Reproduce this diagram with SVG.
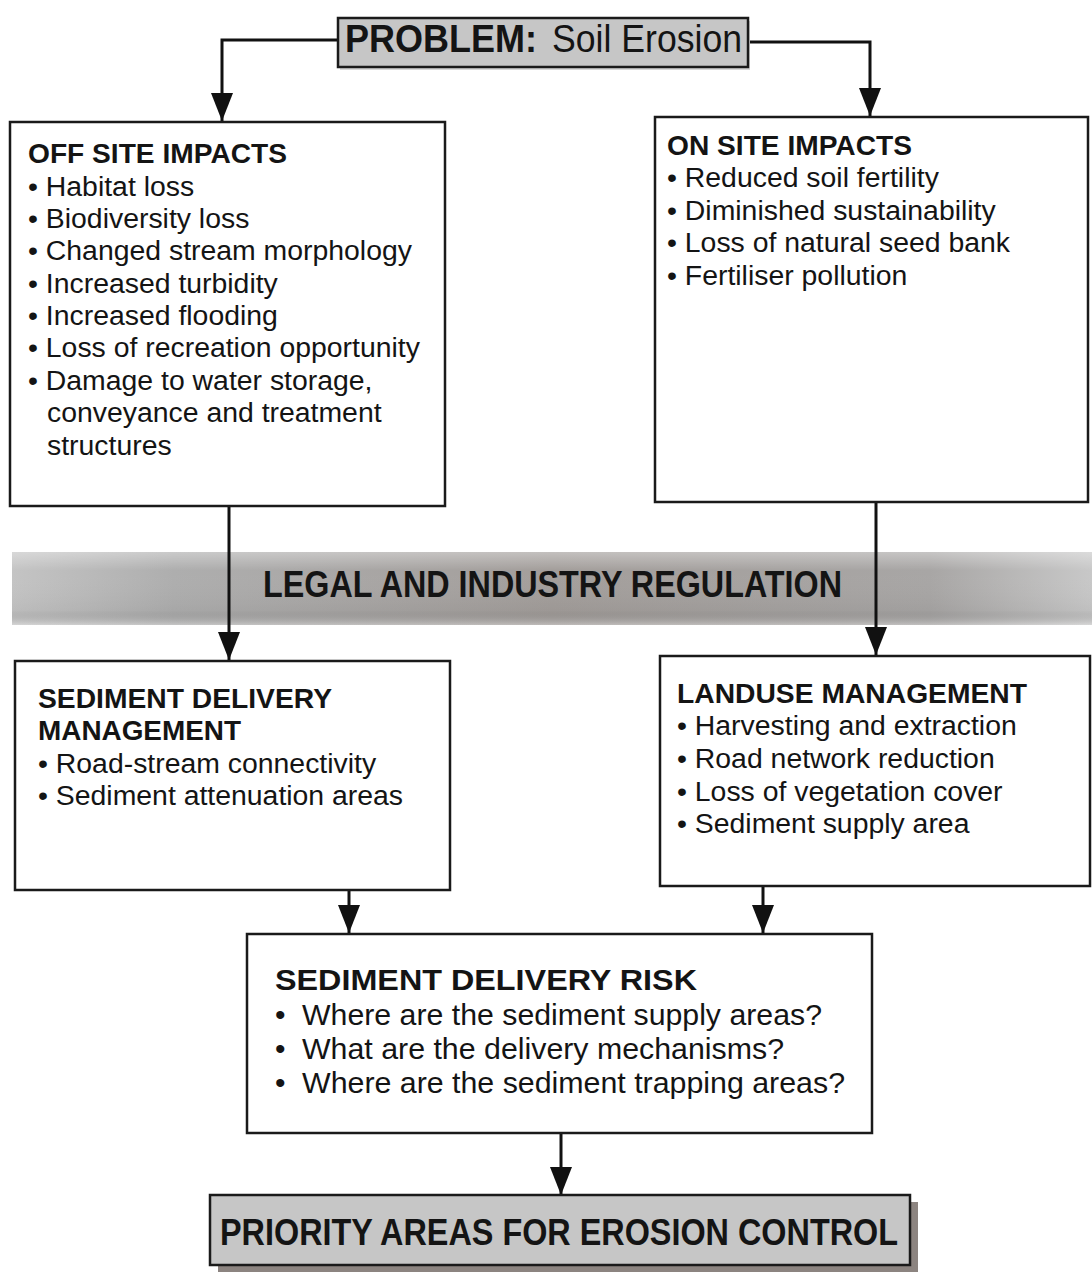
<svg xmlns="http://www.w3.org/2000/svg" width="1092" height="1273" viewBox="0 0 1092 1273">
<style>
.box{fill:#fff;stroke:#1a1a1a;stroke-width:2.5}
.gbox{fill:#c6c6c6;stroke:#1a1a1a;stroke-width:2.5}
.t{font-family:"Liberation Sans",Arial,sans-serif;fill:#141414}
.h{font-weight:bold;font-size:28px}
.b{font-size:28.4px}
.r{font-size:30px}
.rh{font-weight:bold;font-size:30px}
.big{font-weight:bold;font-size:37px}
.con{fill:none;stroke:#111;stroke-width:3}
</style>
<defs>
<marker id="ah" markerUnits="userSpaceOnUse" viewBox="0 0 28 22" refX="28" refY="11" markerWidth="28" markerHeight="22" orient="auto">
<path d="M0,0 L28,11 L0,22 z" fill="#111"/>
</marker>
<linearGradient id="band" x1="0" y1="0" x2="1" y2="0">
<stop offset="0" stop-color="#c4c4c4"/>
<stop offset="0.15" stop-color="#aeaeae"/>
<stop offset="0.5" stop-color="#a39e9b"/>
<stop offset="0.85" stop-color="#a8a6a5"/>
<stop offset="1" stop-color="#c8c8c8"/>
</linearGradient>
<linearGradient id="bandv" x1="0" y1="0" x2="0" y2="1">
<stop offset="0" stop-color="#fff" stop-opacity="0.35"/>
<stop offset="0.25" stop-color="#fff" stop-opacity="0"/>
<stop offset="0.8" stop-color="#000" stop-opacity="0.04"/>
<stop offset="1" stop-color="#fff" stop-opacity="0.3"/>
</linearGradient>
</defs>

<g id="band-regulation">
<rect x="12" y="552" width="1080" height="73" fill="url(#band)"/>
<rect x="12" y="552" width="1080" height="73" fill="url(#bandv)"/>
<text class="t big" x="263" y="597" textLength="579" lengthAdjust="spacingAndGlyphs" font-size="35" fill="#1c1c1c">LEGAL AND INDUSTRY REGULATION</text>
</g>

<g id="connectors">
<path class="con" d="M337,40 H222 V121" marker-end="url(#ah)"/>
<path class="con" d="M748,42 H870 V116" marker-end="url(#ah)"/>
<path class="con" d="M229,507 V660" marker-end="url(#ah)"/>
<path class="con" d="M876,502 V655" marker-end="url(#ah)"/>
<path class="con" d="M349,890 V933" marker-end="url(#ah)"/>
<path class="con" d="M763,887 V933" marker-end="url(#ah)"/>
<path class="con" d="M561,1133 V1195" marker-end="url(#ah)"/>
</g>

<g id="problem">
<rect x="340" y="21" width="410" height="49" fill="#d8d8d8"/>
<rect class="gbox" x="338" y="18" width="410" height="49"/>
<text class="t" x="345" y="52" font-size="38" font-weight="bold" textLength="192" lengthAdjust="spacingAndGlyphs">PROBLEM:</text>
<text class="t" x="552" y="52" font-size="38" textLength="190" lengthAdjust="spacingAndGlyphs">Soil Erosion</text>
</g>

<g id="off-site">
<rect class="box" x="10" y="122" width="435" height="384"/>
<text class="t h" x="28" y="163" textLength="259" lengthAdjust="spacingAndGlyphs">OFF SITE IMPACTS</text>
<text class="t b" x="28" y="196">• Habitat loss</text>
<text class="t b" x="28" y="228">• Biodiversity loss</text>
<text class="t b" x="28" y="260">• Changed stream morphology</text>
<text class="t b" x="28" y="293">• Increased turbidity</text>
<text class="t b" x="28" y="325">• Increased flooding</text>
<text class="t b" x="28" y="357">• Loss of recreation opportunity</text>
<text class="t b" x="28" y="390">• Damage to water storage,</text>
<text class="t b" x="47" y="422">conveyance and treatment</text>
<text class="t b" x="47" y="455">structures</text>
</g>

<g id="on-site">
<rect class="box" x="655" y="117" width="433" height="385"/>
<text class="t h" x="667" y="155" textLength="245" lengthAdjust="spacingAndGlyphs">ON SITE IMPACTS</text>
<text class="t b" x="667" y="187">• Reduced soil fertility</text>
<text class="t b" x="667" y="220">• Diminished sustainability</text>
<text class="t b" x="667" y="252">• Loss of natural seed bank</text>
<text class="t b" x="667" y="285">• Fertiliser pollution</text>
</g>

<g id="sediment-delivery-management">
<rect class="box" x="15" y="661" width="435" height="229"/>
<text class="t h" x="38" y="708" textLength="294" lengthAdjust="spacingAndGlyphs">SEDIMENT DELIVERY</text>
<text class="t h" x="38" y="740" textLength="203" lengthAdjust="spacingAndGlyphs">MANAGEMENT</text>
<text class="t b" x="38" y="773">• Road-stream connectivity</text>
<text class="t b" x="38" y="805">• Sediment attenuation areas</text>
</g>

<g id="landuse-management">
<rect class="box" x="660" y="656" width="430" height="230"/>
<text class="t h" x="677" y="703" textLength="350" lengthAdjust="spacingAndGlyphs">LANDUSE MANAGEMENT</text>
<text class="t b" x="677" y="735">• Harvesting and extraction</text>
<text class="t b" x="677" y="768">• Road network reduction</text>
<text class="t b" x="677" y="801">• Loss of vegetation cover</text>
<text class="t b" x="677" y="833">• Sediment supply area</text>
</g>

<g id="sediment-delivery-risk">
<rect class="box" x="247" y="934" width="625" height="199"/>
<text class="t rh" x="275" y="990" textLength="422" lengthAdjust="spacingAndGlyphs">SEDIMENT DELIVERY RISK</text>
<text class="t r" x="275" y="1025">•</text>
<text class="t r" x="302" y="1025" textLength="520" lengthAdjust="spacingAndGlyphs">Where are the sediment supply areas?</text>
<text class="t r" x="275" y="1059">•</text>
<text class="t r" x="302" y="1059" textLength="482" lengthAdjust="spacingAndGlyphs">What are the delivery mechanisms?</text>
<text class="t r" x="275" y="1093">•</text>
<text class="t r" x="302" y="1093" textLength="543" lengthAdjust="spacingAndGlyphs">Where are the sediment trapping areas?</text>
</g>

<g id="priority-areas">
<rect x="218" y="1202" width="700" height="70" fill="#8c8480"/>
<rect class="gbox" x="210" y="1195" width="700" height="70" fill="#cbcbcb"/>
<text class="t big" x="220" y="1245" font-size="36" textLength="678" lengthAdjust="spacingAndGlyphs">PRIORITY AREAS FOR EROSION CONTROL</text>
</g>
</svg>
